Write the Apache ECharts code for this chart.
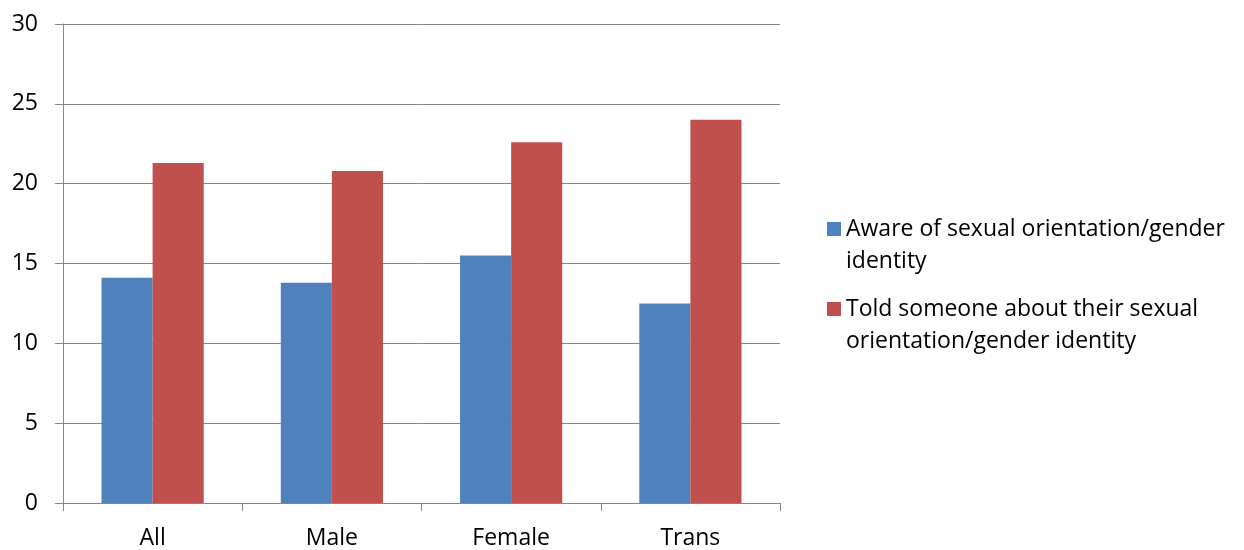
<!DOCTYPE html>
<html>
<head>
<meta charset="utf-8">
<script src="https://cdn.jsdelivr.net/npm/echarts@6/dist/echarts.min.js"></script>
<style>
  html, body { margin: 0; padding: 0; background: #fff; }
  #chart { width: 1244px; height: 550px; }
</style>
</head>
<body>
<div id="chart"></div>
<script>
const categories = ['All', 'Male', 'Female', 'Trans'];
const awareValues = [14.1, 13.8, 15.5, 12.5];
const toldValues = [21.3, 20.8, 22.6, 24.0];
const seriesNames = [
  'Aware of sexual orientation/gender\nidentity',
  'Told someone about their sexual\norientation/gender identity'
];

const FONT = '"Open Sans", Lato, sans-serif';
const chart = echarts.init(document.getElementById('chart'), null, { renderer: 'canvas' });

chart.setOption({
  animation: false,
  backgroundColor: '#ffffff',
  grid: { left: 63, right: 464, top: 24, bottom: 46, containLabel: false },
  legend: {
    orient: 'vertical',
    left: 822,
    top: 176,
    itemWidth: 14,
    itemHeight: 14,
    itemGap: -16,
    icon: 'rect',
    selectedMode: false,
    // leading blank line keeps the swatch level with the first text line
    formatter: name => '\n' + name,
    textStyle: {
      fontFamily: FONT,
      fontSize: 23,
      color: '#000',
      lineHeight: 32
    },
    data: seriesNames
  },
  xAxis: {
    type: 'category',
    data: categories,
    axisLine: { lineStyle: { color: '#868686', width: 1 } },
    axisTick: { show: true, length: 8, lineStyle: { color: '#868686' } },
    axisLabel: { fontFamily: FONT, fontSize: 23, color: '#000', margin: 24 },
    splitLine: { show: false }
  },
  yAxis: {
    type: 'value',
    min: 0,
    max: 30,
    interval: 5,
    axisLine: { show: true, lineStyle: { color: '#868686', width: 1 } },
    axisTick: { show: true, length: 8, lineStyle: { color: '#868686' } },
    axisLabel: { fontFamily: FONT, fontSize: 23, color: '#000', margin: 25 },
    splitLine: { show: true, lineStyle: { color: '#868686', width: 1 } }
  },
  series: [
    {
      name: seriesNames[0],
      type: 'bar',
      data: awareValues,
      barGap: '0%',
      barCategoryGap: '43%',
      itemStyle: { color: '#4F81BD' }
    },
    {
      name: seriesNames[1],
      type: 'bar',
      data: toldValues,
      barGap: '0%',
      barCategoryGap: '43%',
      itemStyle: { color: '#C0504D' }
    }
  ]
});
</script>
</body>
</html>
